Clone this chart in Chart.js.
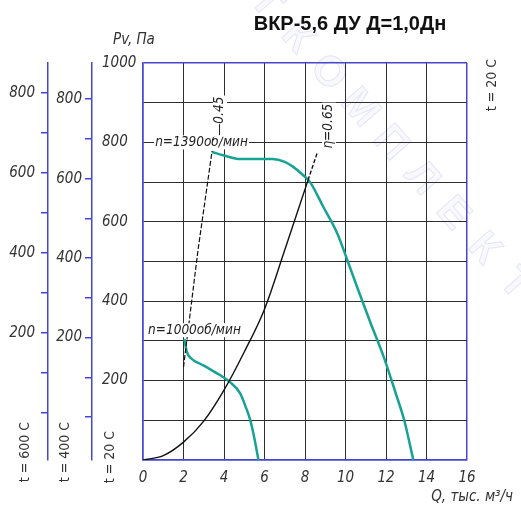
<!DOCTYPE html>
<html>
<head>
<meta charset="utf-8">
<script src="https://cdn.jsdelivr.net/npm/chart.js@4/dist/chart.umd.min.js"></script>
<style>
  html, body { margin: 0; padding: 0; background: #fff; }
  #wrap { width: 521px; height: 510px; }
</style>
</head>
<body>
<div id="wrap"><canvas id="fanChart"></canvas></div>
<script>
// flow, thousand m3/h
const flowTicks = [0, 2, 4, 6, 8, 10, 12, 14, 16];
// tick marks on the t = 400 C / t = 600 C scales, Pa
const pressureTicks = [0, 100, 200, 300, 400, 500, 600, 700, 800];

// n = 1390 rpm
const q1390 = [3.4, 4.0, 4.8, 5.6, 6.4, 7.0, 7.4, 7.9, 8.25, 8.9, 9.6, 10.1, 10.6, 11.2, 11.9, 12.5, 12.9, 13.35];
const p1390 = [776, 767, 758, 758, 758, 751, 739, 718, 700, 638, 570, 502, 432, 350, 258, 165, 100, 0];

// n = 1000 rpm
const q1000 = [2.05, 2.15, 2.4, 2.8, 3.2, 3.8, 4.3, 4.8, 5.1, 5.3, 5.5, 5.7];
const p1000 = [305, 275, 255, 243, 232, 214, 196, 168, 130, 100, 55, 0];

// network curve (eta = 0.65 at the top)
const qNet = [0, 1, 2, 3, 4, 5, 6, 7, 8.15, 8.6];
const pNet = [0, 11, 45, 98, 176, 272, 380, 529, 705, 773];

// eta = 0.45
const qEta = [2.0, 2.72, 3.41];
const pEta = [234, 530, 778];

const GOST = "'DejaVu Sans Condensed', 'DejaVu Sans', sans-serif";
const BLUE = '#4646d2';
const GRID = '#2e2e2e';
const TEAL = '#17a294';
const INK = '#333';

const italic = (size) => ({ family: GOST, size: size, style: 'italic' });
const pts = (qs, ps) => qs.map((q, i) => ({ x: q, y: ps[i] }));

const notes = [
  { text: 'n=1390об/мин', q: 0.6, p: 800 },
  { text: 'n=1000об/мин', q: 0.25, p: 327 },
  { text: '—0.45', q: 3.8, p: 866, rot: true },
  { text: 'η=0.65', q: 9.18, p: 841, rot: true }
];

function put(ctx, text, x, y, o) {
  ctx.save();
  ctx.translate(x, y);
  if (o.rot) ctx.rotate(-Math.PI / 2);
  ctx.font = o.font;
  ctx.textAlign = o.align || 'left';
  ctx.textBaseline = 'middle';
  if (o.bg) {
    const w = ctx.measureText(text).width;
    const left = ctx.textAlign === 'center' ? -w / 2 : 0;
    ctx.fillStyle = '#fff';
    ctx.fillRect(left - 1, -7, w + 2, 14);
  }
  ctx.fillStyle = o.color || INK;
  ctx.fillText(text, 0, 0);
  ctx.restore();
}

const watermark = {
  id: 'watermark',
  beforeDraw(chart) {
    const ctx = chart.ctx;
    const word = 'ВЕНТКОМПЛЕКТ';
    ctx.save();
    ctx.translate(328, 73);
    ctx.rotate(48.5 * Math.PI / 180);
    ctx.font = "bold 42px 'Liberation Sans', sans-serif";
    ctx.textAlign = 'center';
    ctx.textBaseline = 'middle';
    ctx.fillStyle = 'rgba(120,120,220,0.05)';
    ctx.strokeStyle = 'rgba(110,110,220,0.17)';
    ctx.lineWidth = 1;
    for (let i = 0; i < word.length; i++) {
      ctx.fillText(word[i], (i - 5) * 47, 0);
      ctx.strokeText(word[i], (i - 5) * 47, 0);
    }
    ctx.restore();
  }
};

const texts = {
  id: 'texts',
  afterDraw(chart) {
    const ctx = chart.ctx;
    const { x, y, y400, y600 } = chart.scales;
    const a = chart.chartArea;

    ctx.save();
    ctx.font = "bold 20px 'Liberation Sans', Arial, sans-serif";
    ctx.fillStyle = '#111';
    ctx.textAlign = 'center';
    ctx.textBaseline = 'alphabetic';
    ctx.fillText('ВКР-5,6 ДУ Д=1,0Дн', 350, 30);
    ctx.restore();

    notes.forEach(n => {
      put(ctx, n.text, x.getPixelForValue(n.q), y.getPixelForValue(n.p), {
        font: "italic 13.5px " + GOST, rot: n.rot, align: n.rot ? 'center' : 'left', bg: true, color: '#222'
      });
    });

    put(ctx, 'Pv, Па', y.left + 11, a.top - 23, { font: "italic 15px " + GOST });
    put(ctx, 'Q, тыс. м³/ч', a.right + 46, a.bottom + 37, { font: "italic 15px " + GOST, align: 'right' });

    const tFont = "14px " + GOST;
    put(ctx, 't = 20 C', a.right + 25, a.top + 22, { font: tFont, rot: true, align: 'center' });
    put(ctx, 't = 600 C', y600.right - 23, 452, { font: tFont, rot: true, align: 'center' });
    put(ctx, 't = 400 C', y400.right - 27, 452, { font: tFont, rot: true, align: 'center' });
    put(ctx, 't = 20 C', a.left - 33, 457, { font: tFont, rot: true, align: 'center' });
  }
};

const tempAxis = (weight, min, max, width, pad) => ({
  type: 'linear',
  position: 'left',
  weight: weight,
  min: min,
  max: max,
  afterBuildTicks: s => { s.ticks = pressureTicks.map(v => ({ value: v })); },
  afterFit: s => { s.width = width; },
  ticks: {
    autoSkip: false,
    padding: pad,
    color: INK,
    font: italic(15),
    callback: v => (v > 0 && v % 200 === 0 ? v : '')
  },
  grid: { drawOnChartArea: false, color: BLUE, lineWidth: 1.5, tickLength: 7 },
  border: { color: BLUE, width: 1.5 }
});

new Chart(document.getElementById('fanChart'), {
  type: 'line',
  data: {
    datasets: [
      {
        data: pts(qNet, pNet),
        borderColor: '#111',
        borderWidth: 1.4,
        cubicInterpolationMode: 'monotone',
        segment: { borderDash: c => (c.p0.parsed.x >= 8.1 ? [4, 2] : undefined) }
      },
      {
        data: pts(qEta, pEta),
        borderColor: '#111',
        borderWidth: 1.2,
        borderDash: [5, 2],
        tension: 0
      },
      {
        data: pts(q1390, p1390),
        borderColor: TEAL,
        borderWidth: 2.5,
        cubicInterpolationMode: 'monotone'
      },
      {
        data: pts(q1000, p1000),
        borderColor: TEAL,
        borderWidth: 2.5,
        cubicInterpolationMode: 'monotone'
      }
    ]
  },
  options: {
    responsive: true,
    maintainAspectRatio: false,
    animation: false,
    layout: { padding: { top: 63, right: 54, left: 0, bottom: 0 } },
    elements: { point: { radius: 0 } },
    plugins: { legend: { display: false }, tooltip: { enabled: false } },
    scales: {
      x: {
        type: 'linear',
        min: 0,
        max: 16,
        afterBuildTicks: s => { s.ticks = flowTicks.map(v => ({ value: v })); },
        afterFit: s => { s.height = 50; },
        ticks: { padding: 9, color: INK, font: italic(15) },
        grid: {
          drawTicks: false,
          color: c => (c.tick.value === 0 || c.tick.value === 16 ? BLUE : GRID),
          lineWidth: c => (c.tick.value === 0 || c.tick.value === 16 ? 1.5 : 1)
        },
        border: { color: BLUE, width: 1.5 }
      },
      y: {
        type: 'linear',
        position: 'left',
        weight: 0,
        min: 0,
        max: 1000,
        afterFit: s => { s.width = 41; },
        ticks: {
          stepSize: 100,
          autoSkip: false,
          crossAlign: 'far',
          color: INK,
          font: italic(15),
          callback: v => (v > 0 && v % 200 === 0 ? v : '')
        },
        grid: {
          drawTicks: false,
          color: c => (c.tick.value === 0 || c.tick.value === 1000 ? BLUE : GRID),
          lineWidth: c => (c.tick.value === 0 || c.tick.value === 1000 ? 1.5 : 1)
        },
        border: { color: BLUE, width: 1.5 }
      },
      gap: {
        type: 'linear',
        position: 'left',
        weight: 1,
        afterFit: s => { s.width = 10; },
        ticks: { display: false },
        grid: { display: false },
        border: { display: false }
      },
      y400: tempAxis(2, -108, 891, 44, 3),
      y600: tempAxis(3, -117, 875, 48, 6)
    }
  },
  plugins: [watermark, texts]
});
</script>
</body>
</html>
